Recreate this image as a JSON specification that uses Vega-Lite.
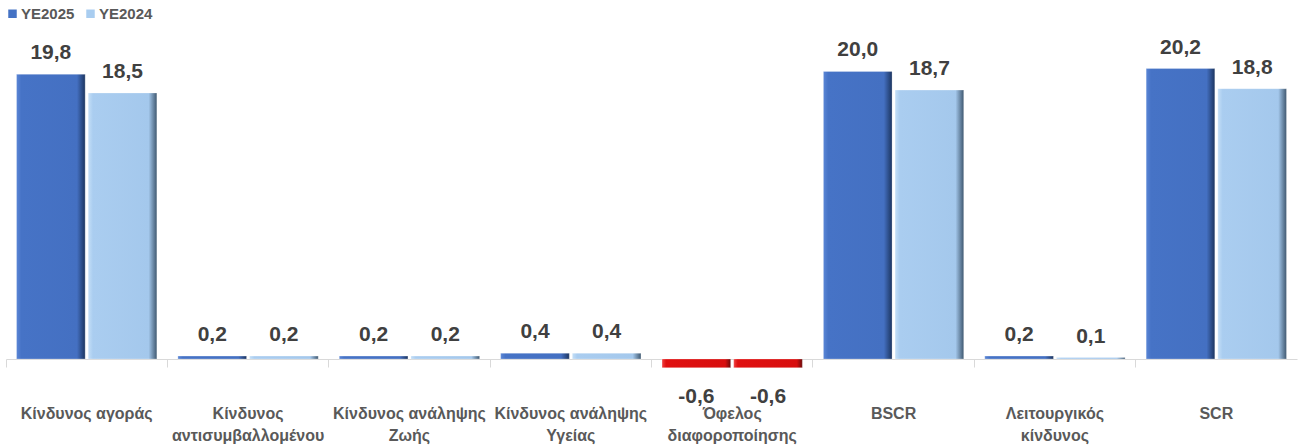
{
  "$schema": "https://vega.github.io/schema/vega-lite/v6.json",
  "autosize": {"type": "none"},
  "padding": {"left": 6, "top": 30, "right": 2, "bottom": 88},
  "width": 1291,
  "height": 329,
  "background": "white",
  "config": {
    "view": {"stroke": null},
    "font": "Liberation Sans",
    "locale": {"number": {"decimal": ",", "thousands": ".", "grouping": [3], "currency": ["", " €"], "minus": "-"}}
  },
  "data": {
    "values": [
      {"category": "Κίνδυνος αγοράς", "series": "YE2025", "value": 19.8},
      {"category": "Κίνδυνος αγοράς", "series": "YE2024", "value": 18.5},
      {"category": "Κίνδυνος\nαντισυμβαλλομένου", "series": "YE2025", "value": 0.2},
      {"category": "Κίνδυνος\nαντισυμβαλλομένου", "series": "YE2024", "value": 0.2},
      {"category": "Κίνδυνος ανάληψης\nΖωής", "series": "YE2025", "value": 0.2},
      {"category": "Κίνδυνος ανάληψης\nΖωής", "series": "YE2024", "value": 0.2},
      {"category": "Κίνδυνος ανάληψης\nΥγείας", "series": "YE2025", "value": 0.4},
      {"category": "Κίνδυνος ανάληψης\nΥγείας", "series": "YE2024", "value": 0.4},
      {"category": "Όφελος\nδιαφοροποίησης", "series": "YE2025", "value": -0.6},
      {"category": "Όφελος\nδιαφοροποίησης", "series": "YE2024", "value": -0.6},
      {"category": "BSCR", "series": "YE2025", "value": 20.0},
      {"category": "BSCR", "series": "YE2024", "value": 18.7},
      {"category": "Λειτουργικός\nκίνδυνος", "series": "YE2025", "value": 0.2},
      {"category": "Λειτουργικός\nκίνδυνος", "series": "YE2024", "value": 0.1},
      {"category": "SCR", "series": "YE2025", "value": 20.2},
      {"category": "SCR", "series": "YE2024", "value": 18.8}
    ]
  },
  "encoding": {
    "x": {
      "field": "category", "type": "nominal", "sort": null,
      "scale": {"paddingInner": 0, "paddingOuter": 0},
      "axis": {
        "title": null, "labelAngle": 0,
        "labelExpr": "split(datum.value, '\\n')",
        "labelFont": "Liberation Sans", "labelFontSize": 16, "labelFontWeight": "bold",
        "labelColor": "#595959", "labelBaseline": "top", "labelPadding": 38,
        "labelLineHeight": 22,
        "bandPosition": 0, "tickSize": 8, "tickColor": "#d9d9d9", "domainColor": "#d9d9d9",
        "domainWidth": 1, "tickWidth": 1, "grid": false, "labelBound": false, "labelOverlap": false
      }
    },
    "xOffset": {"field": "series", "sort": ["YE2025", "YE2024"], "scale": {"paddingInner": 0.042, "paddingOuter": 0.147}},
    "y": {"field": "value", "type": "quantitative", "axis": null, "scale": {"domain": [0, 22.88], "nice": false, "zero": false}}
  },
  "layer": [
    {
      "mark": {"type": "bar", "stroke": "#ffffff", "strokeWidth": 0.5, "strokeOpacity": 0.5},
      "encoding": {
        "color": {
          "condition": [
            {"test": "datum.value < 0", "value": {"gradient": "linear", "x1": 0, "x2": 1, "y1": 0, "y2": 0, "stops": [{"offset": 0, "color": "#f04040"}, {"offset": 0.06, "color": "#e01010"}, {"offset": 0.92, "color": "#d80e0e"}, {"offset": 1, "color": "#6a0a0a"}]}},
            {"test": "datum.series === 'YE2025'", "value": {"gradient": "linear", "x1": 0, "x2": 1, "y1": 0, "y2": 0, "stops": [{"offset": 0, "color": "#5a86d6"}, {"offset": 0.07, "color": "#4673c6"}, {"offset": 0.88, "color": "#4470c2"}, {"offset": 1, "color": "#1c3560"}]}}
          ],
          "value": {"gradient": "linear", "x1": 0, "x2": 1, "y1": 0, "y2": 0, "stops": [{"offset": 0, "color": "#c4dff7"}, {"offset": 0.07, "color": "#aacdf0"}, {"offset": 0.88, "color": "#a4c8ec"}, {"offset": 1, "color": "#3f5870"}]}
        }
      }
    },
    {
      "mark": {"type": "text", "text": ""},
      "encoding": {
        "color": {
          "field": "series", "type": "nominal",
          "scale": {"domain": ["YE2025", "YE2024"], "range": ["#4472c4", "#a9cdf0"]},
          "legend": {
            "title": null, "orient": "none", "direction": "horizontal",
            "legendX": -1, "legendY": -24,
            "symbolType": "square", "symbolSize": 72, "symbolStrokeWidth": 0, "symbolOpacity": 1,
            "labelFont": "Liberation Sans", "labelFontSize": 15, "labelFontWeight": "bold",
            "labelColor": "#595959", "columnPadding": 8, "labelOffset": 1
          }
        }
      }
    },
    {
      "transform": [{"filter": "datum.value >= 0"}],
      "mark": {"type": "text", "baseline": "alphabetic", "dy": -15, "font": "Liberation Sans", "fontSize": 21, "fontWeight": "bold", "color": "#404040"},
      "encoding": {"text": {"field": "value", "type": "quantitative", "format": ".1f"}}
    },
    {
      "transform": [{"filter": "datum.value < 0"}],
      "mark": {"type": "text", "baseline": "alphabetic", "dy": 35, "font": "Liberation Sans", "fontSize": 21, "fontWeight": "bold", "color": "#404040"},
      "encoding": {"text": {"field": "value", "type": "quantitative", "format": ".1f"}}
    }
  ]
}
